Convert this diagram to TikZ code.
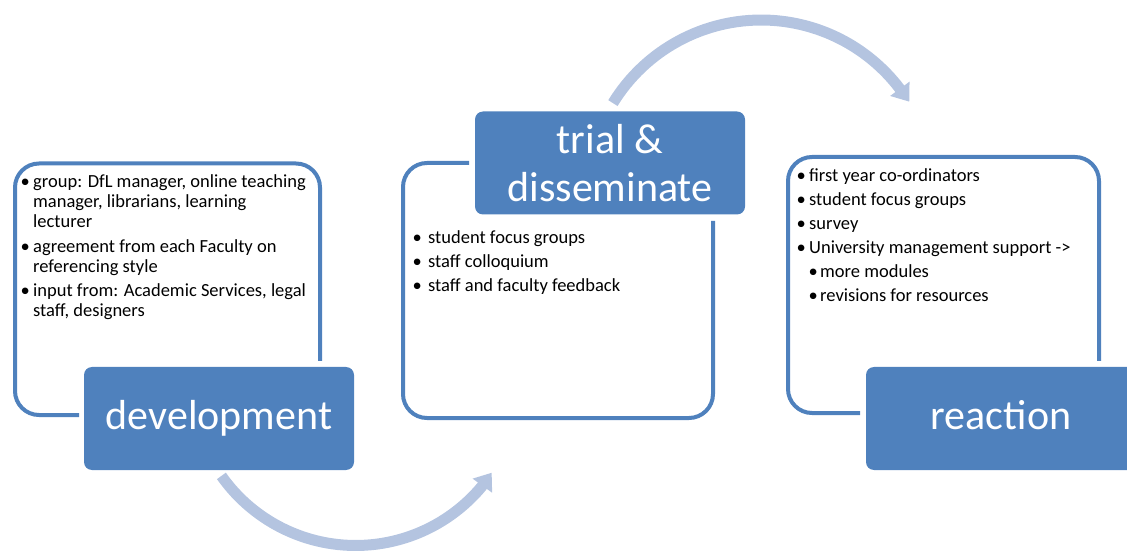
\documentclass[tikz,border=0pt]{standalone}
\usepackage{fontspec}
\setmainfont{Carlito}
\usetikzlibrary{arrows.meta}

\definecolor{boxblue}{RGB}{79,129,189}
\definecolor{arcblue}{RGB}{180,196,224}

\newlength{\bulletgap}
\newcommand{\pointitem}[2][0pt]{\par\leftskip=#1\relax\hangindent=\bulletgap\hangafter=1\noindent\makebox[\bulletgap][l]{\makebox[6pt]{\textbullet}}#2}

\tikzset{
  stagebox/.style={fill=boxblue, rounded corners=8pt, minimum width=270pt, minimum height=103pt,
    inner sep=0pt, text=white, align=center, font=\fontsize{42}{48}\selectfont},
  oneline/.style={text height=29pt, text depth=8pt},
  frame/.style={draw=boxblue, line width=4pt, rounded corners=24pt},
  notes/.style={anchor=base west, inner sep=0pt, font=\fontsize{18.5}{20}\selectfont},
  cyclearrow/.style={draw=arcblue, line width=11pt, -{Triangle[width=23pt,length=16pt]}}
}

\begin{document}
\begin{tikzpicture}[x=1pt, y=1pt]

\clip (0,0) rectangle (1127,552);

% open frames behind the stage boxes
\draw[frame] (79,137) -- (15,137) -- (15,388.5) -- (320,388.5) -- (320,191);
\draw[frame] (469,389) -- (403,389) -- (403,134) -- (713,134) -- (713,331);
\draw[frame] (860,139) -- (788,139) -- (788,395) -- (1099,395) -- (1099,191);

\node[stagebox, oneline] (dev) at (219,133.5) {development};
\node[stagebox] (trial) at (610,389) {trial \&\\disseminate};
\node[stagebox, oneline] (react) at (1001,133.5) {reaction};

\node[notes] (devnotes) at (22,364) {\parbox[t]{320pt}{\setlength{\parskip}{4.5pt}\setlength{\bulletgap}{11pt}%
  \pointitem{group: DfL manager, online teaching\\manager, librarians, learning\\lecturer}
  \pointitem{agreement from each Faculty on\\referencing style}
  \pointitem{input from: Academic Services, legal\\staff, designers}}};

\node[notes] (trialnotes) at (414,308.5) {\parbox[t]{300pt}{\setlength{\parskip}{4pt}\setlength{\bulletgap}{14pt}%
  \pointitem{student focus groups}
  \pointitem{staff colloquium}
  \pointitem{staff and faculty feedback}}};

\node[notes] (reactnotes) at (798,370.5) {\parbox[t]{310pt}{\setlength{\parskip}{4pt}\setlength{\bulletgap}{11pt}%
  \pointitem{first year co-ordinators}
  \pointitem{student focus groups}
  \pointitem{survey}
  \pointitem{University management support ->}
  \setlength{\bulletgap}{10pt}%
  \pointitem[12pt]{more modules}
  \pointitem[12pt]{revisions for resources}}};

% curved arrows between the stages
\coordinate (devarc) at (221.4,76.1);
\coordinate (trialtip) at (491.7,79.3);
\coordinate (trialarc) at (612.9,448.9);
\coordinate (reacttip) at (909.3,450.3);

\draw[cyclearrow] (devarc) arc[start angle=215.2, end angle=320.1, radius=164.3] -- (trialtip);
\draw[cyclearrow] (trialarc) arc[start angle=148.5, end angle=37.5, radius=174] -- (reacttip);

\end{tikzpicture}
\end{document}
